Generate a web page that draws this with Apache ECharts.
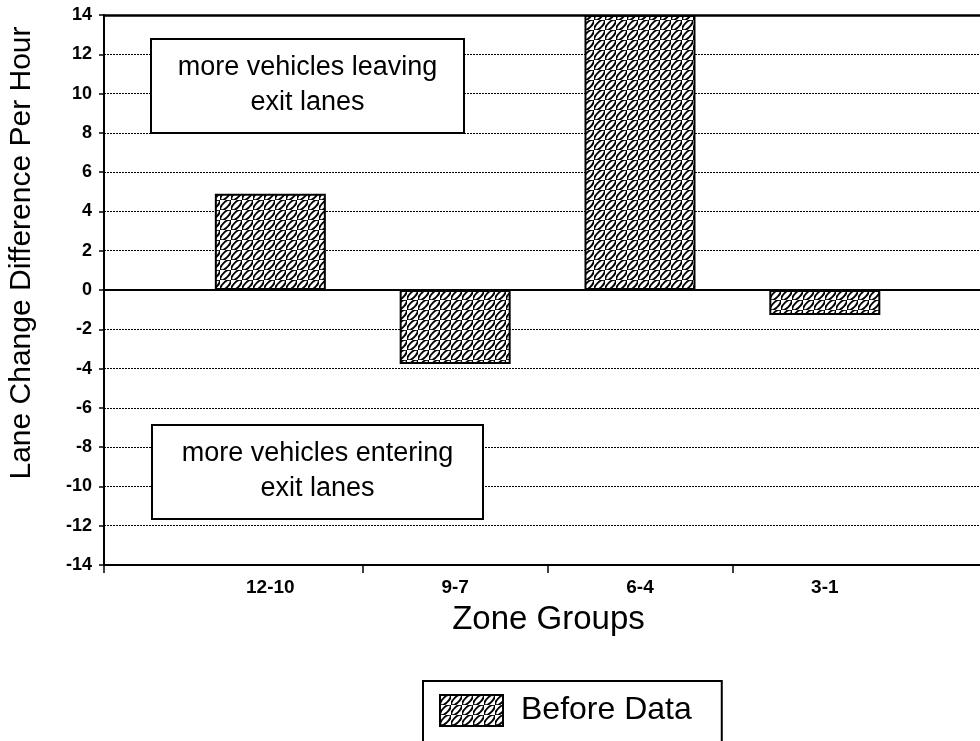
<!DOCTYPE html>
<html>
<head>
<meta charset="utf-8">
<script src="https://cdn.jsdelivr.net/npm/echarts@6/dist/echarts.min.js"></script>
<style>
  html, body { margin: 0; padding: 0; background: #fff; }
  #chart { width: 980px; height: 741px; }
</style>
</head>
<body>
<div id="chart"></div>
<script>
// ---- data ----
const categories = ['12-10', '9-7', '6-4', '3-1'];
const categoryPositions = [1, 2, 3, 4];
const beforeData = [4.9, -3.77, 14, -1.27];
const seriesName = 'Before Data';
const yMin = -14, yMax = 14, yInterval = 2;
const xMin = 0.1, xMax = 4.91;
const xTickPositions = [0.1, 1.5, 2.5, 3.5];
const xAxisName = 'Zone Groups';
const yAxisName = 'Lane Change Difference Per Hour';
const noteTop = ['more vehicles leaving', 'exit lanes'];
const noteBottom = ['more vehicles entering', 'exit lanes'];

const FONT = "'Liberation Sans', Arial, Helvetica, sans-serif";

function makePattern() {
  const c = document.createElement('canvas');
  c.width = 11; c.height = 10;
  const g = c.getContext('2d');
  g.fillStyle = '#fff';
  g.fillRect(0, 0, 11, 10);
  g.strokeStyle = '#000';
  g.lineWidth = 1.8;
  g.save();
  g.translate(5.5, 5);
  g.rotate(-Math.PI / 4);
  g.beginPath();
  g.ellipse(0, 0, 6.8, 2.7, 0, 0, Math.PI * 2);
  g.stroke();
  g.restore();
  return c;
}
const pattern = { image: makePattern(), repeat: 'repeat' };

const chart = echarts.init(document.getElementById('chart'), null, { renderer: 'canvas' });

const barData = categoryPositions.map((p, i) => [p, beforeData[i]]);

function noteBox(x, y, w, h, lines, cx) {
  return {
    type: 'group',
    z: 10,
    children: [
      { type: 'rect', shape: { x: x, y: y, width: w, height: h },
        style: { fill: '#fff', stroke: '#000', lineWidth: 2 }, z: 10 },
      { type: 'text', x: cx, y: y + 29, z: 11,
        style: { text: lines[0], font: '27px ' + FONT, fill: '#000', textAlign: 'center', textVerticalAlign: 'middle' } },
      { type: 'text', x: cx, y: y + 64, z: 11,
        style: { text: lines[1], font: '27px ' + FONT, fill: '#000', textAlign: 'center', textVerticalAlign: 'middle' } }
    ]
  };
}

const option = {
  backgroundColor: '#fff',
  animation: false,
  textStyle: { fontFamily: FONT },
  grid: { left: 104, top: 15, width: 889, height: 550, containLabel: false, outerBoundsMode: 'none' },
  legend: {
    data: [seriesName],
    left: 423, top: 681,
    padding: [13, 30, 30, 16],
    borderColor: '#000', borderWidth: 2,
    backgroundColor: '#fff',
    icon: 'rect',
    itemWidth: 63, itemHeight: 31,
    textStyle: { fontSize: 32, color: '#000', fontFamily: FONT, padding: [0, 0, 0, 13] },
    selectedMode: false
  },
  xAxis: [
    {
      type: 'value', min: xMin, max: xMax, position: 'bottom',
      name: xAxisName, nameLocation: 'middle', nameGap: 38,
      nameTextStyle: { fontSize: 33, color: '#000', fontFamily: FONT },
      axisLine: { show: true, onZero: false, lineStyle: { color: '#000', width: 2 } },
      axisTick: { show: true, customValues: xTickPositions, length: 8, lineStyle: { color: '#000', width: 1.5 } },
      axisLabel: {
        customValues: categoryPositions,
        formatter: v => categories[Math.round(v) - 1],
        margin: 13, fontSize: 19, fontWeight: 'bold', color: '#000', fontFamily: FONT
      },
      splitLine: { show: false }
    },
    {
      type: 'value', min: xMin, max: xMax, position: 'top',
      axisLine: { show: true, onZero: false, lineStyle: { color: '#000', width: 2.5 } },
      axisTick: { show: false }, axisLabel: { show: false }, splitLine: { show: false }
    }
  ],
  yAxis: {
    type: 'value', min: yMin, max: yMax, interval: yInterval,
    axisLine: { show: true, lineStyle: { color: '#000', width: 2 } },
    axisTick: { show: true, length: 5, lineStyle: { color: '#000', width: 1.5 } },
    axisLabel: { margin: 12, fontSize: 18, fontWeight: 'bold', color: '#000', fontFamily: FONT },
    splitLine: { show: true, lineStyle: { color: '#000', width: 1, type: [2, 1] } }
  },
  series: [
    {
      name: seriesName,
      type: 'bar',
      xAxisIndex: 0,
      barWidth: 111,
      data: barData,
      itemStyle: { color: pattern, borderColor: '#000', borderWidth: 2 },
      markLine: {
        silent: true, symbol: 'none', label: { show: false },
        lineStyle: { color: '#000', width: 2, type: 'solid' },
        data: [{ yAxis: 0 }]
      }
    }
  ],
  graphic: [
    noteBox(151, 39, 313, 94, noteTop, 307.5),
    noteBox(152, 425, 331, 94, noteBottom, 317.5),
    {
      type: 'text', x: 22, y: 253, rotation: Math.PI / 2, z: 10,
      style: { text: yAxisName, font: '30px ' + FONT, fill: '#000', textAlign: 'center', textVerticalAlign: 'middle' }
    }
  ]
};

chart.setOption(option);
</script>
</body>
</html>
